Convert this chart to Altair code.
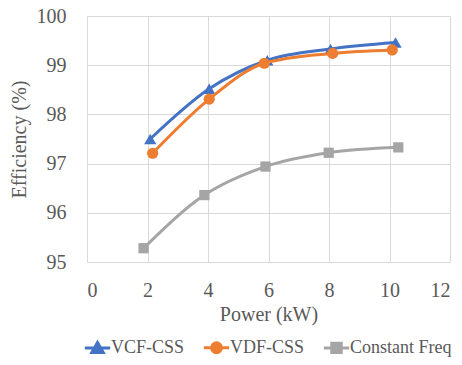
import altair as alt
import pandas as pd

# Series names and Excel-style colours
series_names = ["VCF-CSS", "VDF-CSS", "Constant Freq"]
series_colors = ["#4472C4", "#ED7D31", "#A5A5A5"]
series_shapes = ["triangle-up", "circle", "square"]
series_sizes = [150, 125, 105]

# Measured efficiency vs output power
vcf_power = [2.09, 4.04, 5.96, 8.05, 10.2]
vcf_eff = [97.5, 98.52, 99.1, 99.33, 99.46]

vdf_power = [2.17, 4.04, 5.86, 8.12, 10.09]
vdf_eff = [97.21, 98.31, 99.04, 99.24, 99.31]

cf_power = [1.87, 3.88, 5.9, 7.99, 10.29]
cf_eff = [95.28, 96.36, 96.94, 97.22, 97.33]

x_ticks = [0, 2, 4, 6, 8, 10, 12]
y_ticks = [95, 96, 97, 98, 99, 100]

FONT = "Liberation Serif, Times New Roman, serif"
TEXT = "#595959"

rows = []
for name, xs, ys in zip(series_names,
                        [vcf_power, vdf_power, cf_power],
                        [vcf_eff, vdf_eff, cf_eff]):
    for i, (p, e) in enumerate(zip(xs, ys)):
        rows.append({"series": name, "power": p, "eff": e, "idx": i})
df = pd.DataFrame(rows)

# Legend symbols: a short line with the series marker on it
legend_paths = [
    "M-1.15,0H1.15M0,-0.5L0.52,0.42H-0.52Z",
    "M-1.15,0H1.15M0.45,0A0.45,0.45 0 1 1 -0.45,0A0.45,0.45 0 1 1 0.45,0Z",
    "M-1.15,0H1.15M-0.43,-0.43H0.43V0.43H-0.43Z",
]

x_enc = alt.X("power:Q", title="Power (kW)",
              scale=alt.Scale(domain=[0, 12], nice=False),
              axis=alt.Axis(values=x_ticks, labelPadding=18, titlePadding=4,
                            labelFont=FONT, titleFont=FONT))
y_enc = alt.Y("eff:Q", title="Efficiency (%)",
              scale=alt.Scale(domain=[95, 100], nice=False, zero=False),
              axis=alt.Axis(values=y_ticks, labelPadding=21, titlePadding=7,
                            labelFont=FONT, titleFont=FONT))

base = alt.Chart(df)

# Each series: smoothed line, then its markers on top
series_layers = []
for name, col, shp, sz in zip(series_names, series_colors, series_shapes, series_sizes):
    sub = base.transform_filter(alt.datum.series == name)
    series_layers.append(
        sub.mark_line(interpolate="monotone", strokeWidth=3, color=col).encode(
            x=x_enc, y=y_enc, order="idx:Q"
        )
    )
    series_layers.append(
        sub.mark_point(filled=True, opacity=1, shape=shp, size=sz, color=col).encode(
            x=x_enc, y=y_enc
        )
    )

# Legend-only layer (no rows survive the filter); entries come from the scale domains
legend_layer = (
    base.transform_filter(alt.datum.idx < 0)
    .mark_point(filled=True, opacity=1)
    .encode(
        x=x_enc,
        y=y_enc,
        fill=alt.Fill("series:N",
                      scale=alt.Scale(domain=series_names, range=series_colors),
                      legend=alt.Legend(
                          title=None,
                          orient="none",
                          direction="horizontal",
                          legendX=-2,
                          legendY=319,
                          symbolSize=484,
                          symbolStrokeWidth=3,
                          symbolOpacity=1,
                          labelOffset=1,
                          columnPadding=12,
                          labelFont=FONT,
                          labelFontSize=18,
                          labelColor=TEXT,
                      )),
        stroke=alt.Stroke("series:N",
                          scale=alt.Scale(domain=series_names, range=series_colors)),
        shape=alt.Shape("series:N",
                        scale=alt.Scale(domain=series_names, range=legend_paths)),
    )
)

chart = (
    alt.layer(*series_layers, legend_layer)
    .properties(
        width=363,
        height=246,
        autosize=alt.AutoSizeParams(type="none"),
        padding={"left": 87, "top": 16, "right": 12, "bottom": 103},
    )
    .configure(font=FONT)
    .configure_view(strokeWidth=0)
    .configure_axis(
        labelFontSize=20,
        labelColor=TEXT,
        titleFontSize=20,
        titleFontWeight="normal",
        titleColor=TEXT,
        domain=False,
        ticks=False,
        tickSize=0,
        gridColor="#D9D9D9",
        gridWidth=1,
    )
)

chart.save("out.html", embed_options={"renderer": "svg", "actions": False})
